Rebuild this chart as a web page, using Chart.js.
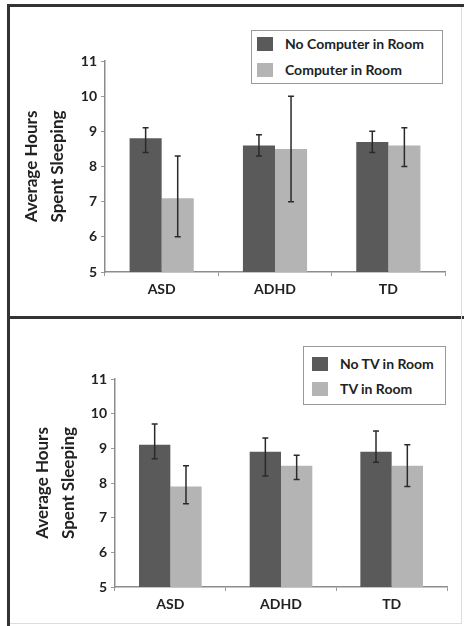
<!DOCTYPE html>
<html>
<head>
<meta charset="utf-8">
<script src="https://cdn.jsdelivr.net/npm/chart.js@4/dist/chart.umd.min.js"></script>
<style>
    body { margin: 0; background: #fff; width: 464px; height: 626px; position: relative; overflow: hidden; font-family: Lato, sans-serif; }
    canvas { position: absolute; }
    .line { position: absolute; }
    .legend { position: absolute; border: 1.5px solid #999; background: #fff; box-sizing: border-box; }
    .legend .sw { position: absolute; width: 16px; height: 14px; }
    .legend .tx { position: absolute; font-size: 14px; font-weight: bold; line-height: 18px; color: #222; white-space: nowrap; }
</style>
</head>
<body>
<!-- frame -->
<div class="line" style="left:7px; top:4px; width:457px; height:3px; background:#333;"></div>
<div class="line" style="left:7px; top:4px; width:3px; height:622px; background:#333;"></div>
<div class="line" style="left:7px; top:316px; width:457px; height:3px; background:#333;"></div>
<div class="line" style="left:461px; top:7px; width:1px; height:617px; background:#ddd;"></div>
<div class="line" style="left:10px; top:623px; width:452px; height:1px; background:#ddd;"></div>

<canvas id="computerChart" width="451" height="306" style="left:10px; top:8px;"></canvas>
<canvas id="tvChart" width="451" height="300" style="left:10px; top:320px;"></canvas>

<div class="legend" style="left:251px; top:30px; width:192px; height:54px;">
    <div class="sw" style="left:5px; top:6px; background:#5a5a5a;"></div>
    <div class="tx" style="left:33px; top:4px;">No Computer in Room</div>
    <div class="sw" style="left:5px; top:32px; background:#b4b4b4;"></div>
    <div class="tx" style="left:33px; top:30px;">Computer in Room</div>
</div>
<div class="legend" style="left:303px; top:346px; width:143px; height:59px;">
    <div class="sw" style="left:8px; top:10px; background:#5a5a5a;"></div>
    <div class="tx" style="left:36px; top:8px;">No TV in Room</div>
    <div class="sw" style="left:8px; top:35px; background:#b4b4b4;"></div>
    <div class="tx" style="left:36px; top:33px;">TV in Room</div>
</div>

<script>
    // Data
    const categories = ['ASD', 'ADHD', 'TD'];
    const yTicks = [5, 6, 7, 8, 9, 10, 11];
    const yTitle = ['Average Hours', 'Spent Sleeping'];

    const noComputer = [8.8, 8.6, 8.7];
    const noComputerLow = [8.4, 8.3, 8.4];
    const noComputerHigh = [9.1, 8.9, 9.0];
    const computer = [7.1, 8.5, 8.6];
    const computerLow = [6.0, 7.0, 8.0];
    const computerHigh = [8.3, 10.0, 9.1];

    const noTv = [9.1, 8.9, 8.9];
    const noTvLow = [8.7, 8.2, 8.6];
    const noTvHigh = [9.7, 9.3, 9.5];
    const tv = [7.9, 8.5, 8.5];
    const tvLow = [7.4, 8.1, 7.9];
    const tvHigh = [8.5, 8.8, 9.1];

    const darkGray = '#5a5a5a';
    const lightGray = '#b4b4b4';

    Chart.defaults.font.family = 'Lato, sans-serif';
    Chart.defaults.font.weight = 'bold';
    Chart.defaults.color = '#222';

    // Error bars drawn from each dataset's low/high arrays
    const errorBars = {
        id: 'errorBars',
        afterDatasetsDraw(chart) {
            const ctx = chart.ctx;
            const yScale = chart.scales.y;
            ctx.save();
            ctx.strokeStyle = '#2a2a2a';
            ctx.lineWidth = 1.5;
            chart.data.datasets.forEach((ds, i) => {
                const meta = chart.getDatasetMeta(i);
                meta.data.forEach((bar, j) => {
                    const top = yScale.getPixelForValue(ds.high[j]);
                    const bottom = yScale.getPixelForValue(ds.low[j]);
                    ctx.beginPath();
                    ctx.moveTo(bar.x, top);
                    ctx.lineTo(bar.x, bottom);
                    ctx.moveTo(bar.x - 3, top);
                    ctx.lineTo(bar.x + 3, top);
                    ctx.moveTo(bar.x - 3, bottom);
                    ctx.lineTo(bar.x + 3, bottom);
                    ctx.stroke();
                });
            });
            ctx.restore();
        }
    };

    function makeChart(id, series, layout) {
        const ctx = document.getElementById(id).getContext('2d');
        return new Chart(ctx, {
            type: 'bar',
            data: {
                labels: categories,
                datasets: series.map(s => ({
                    label: s.label,
                    data: s.data,
                    low: s.low,
                    high: s.high,
                    backgroundColor: s.color,
                    borderWidth: 0,
                    categoryPercentage: 0.566,
                    barPercentage: 1.0
                }))
            },
            options: {
                responsive: false,
                maintainAspectRatio: false,
                animation: false,
                layout: { padding: { top: layout.top, right: layout.right, bottom: 0, left: 0 } },
                plugins: {
                    legend: { display: false },
                    tooltip: { enabled: false }
                },
                scales: {
                    x: {
                        grid: { display: true, drawOnChartArea: false, drawTicks: true, tickLength: 4, color: '#999', offset: true },
                        border: { color: '#8c8c8c', width: 1.5 },
                        ticks: { font: { size: 14, weight: 'bold' }, padding: 5, color: '#222' },
                        afterFit: (scale) => { scale.height = layout.xHeight; }
                    },
                    y: {
                        min: yTicks[0],
                        max: yTicks[yTicks.length - 1],
                        afterBuildTicks: (scale) => { scale.ticks = yTicks.map(v => ({ value: v })); },
                        grid: { display: true, drawOnChartArea: false, drawTicks: true, tickLength: 4, color: '#999' },
                        border: { color: '#8c8c8c', width: 1.5 },
                        ticks: { font: { size: 14, weight: 'bold' }, padding: 4, color: '#222' },
                        title: {
                            display: true,
                            text: yTitle,
                            font: { size: 17, weight: 'bold', lineHeight: 1.5 },
                            color: '#222',
                            padding: { top: layout.titlePad, bottom: 0 }
                        },
                        afterFit: (scale) => { scale.width = layout.yWidth; }
                    }
                }
            },
            plugins: [errorBars]
        });
    }

    makeChart('computerChart', [
        { label: 'No Computer in Room', data: noComputer, low: noComputerLow, high: noComputerHigh, color: darkGray },
        { label: 'Computer in Room', data: computer, low: computerLow, high: computerHigh, color: lightGray }
    ], { top: 53, right: 16, xHeight: 42, yWidth: 95, titlePad: 9 });

    makeChart('tvChart', [
        { label: 'No TV in Room', data: noTv, low: noTvLow, high: noTvHigh, color: darkGray },
        { label: 'TV in Room', data: tv, low: tvLow, high: tvHigh, color: lightGray }
    ], { top: 59, right: 14, xHeight: 33, yWidth: 105, titlePad: 20 });
</script>
</body>
</html>
